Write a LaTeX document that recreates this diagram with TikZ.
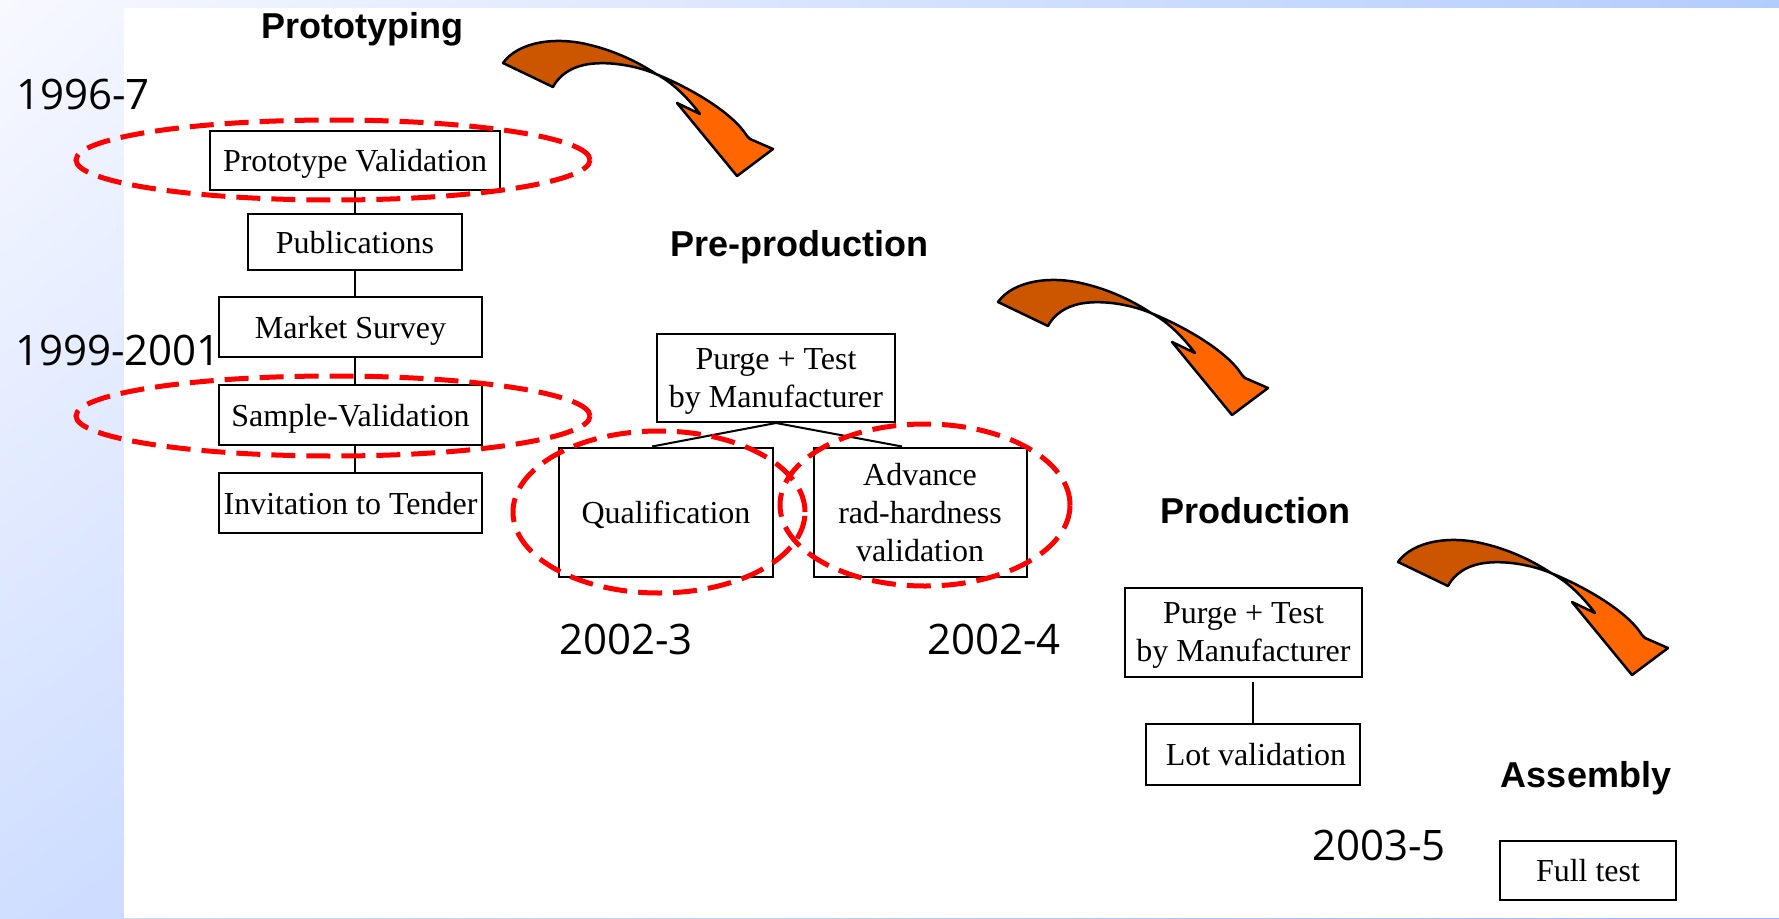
\documentclass[tikz,border=0pt]{standalone}
\usepackage{fontspec}
\setmainfont{Liberation Serif}
\newfontfamily\headfont{Liberation Sans}
\newfontfamily\datefont{Open Sans}
\usetikzlibrary{calc,shadings}

\definecolor{bgtl}{RGB}{248,249,255}
\definecolor{bgtr}{RGB}{179,204,255}
\definecolor{bgbl}{RGB}{208,222,255}
\definecolor{bgbr}{RGB}{150,185,255}
\definecolor{backface}{RGB}{204,85,0}
\definecolor{frontface}{RGB}{255,102,0}

% curved, twisted phase arrow, drawn at a given offset
\newcommand\phasearrow[1]{%
  \begin{scope}[shift={#1}]
    \filldraw[fill=backface, draw=black, line width=2.5pt, line join=round]
      (503,63) .. controls (518,42) and (555,36) .. (590,45)
      .. controls (615,51) and (638,62) .. (656,74)
      .. controls (632,64) and (600,60) .. (580,66)
      .. controls (566,70) and (557,79) .. (553,87) -- cycle;
    \filldraw[fill=frontface, draw=black, line width=2.5pt, line join=round]
      (656,74) .. controls (690,88) and (732,112) .. (747,136)
      -- (750,139) -- (773,149) -- (737,176) -- (677,103) -- (700,114)
      .. controls (688,98) and (672,82) .. (656,74) -- cycle;
  \end{scope}}

\begin{document}
\begin{tikzpicture}[x=1pt,y=-1pt,
  box/.style={draw, line width=2pt, fill=white, inner sep=0pt, align=center,
    text depth=0pt, font=\fontsize{32}{38}\selectfont},
  ring/.style={draw=red, line width=5pt, dash pattern=on 24pt off 11pt},
  phase/.style={font=\headfont\bfseries\fontsize{36}{40}\selectfont,
    anchor=base, inner sep=0pt},
  year/.style={font=\datefont\fontsize{42}{46}\selectfont,
    anchor=base west, inner sep=0pt},
  link/.style={line width=2pt}]

\useasboundingbox (0,0) rectangle (1779,918);

% backdrop: tinted frame on the left and top
\shade[upper left=bgtl, upper right=bgtr, lower left=bgbl, lower right=bgbr]
  (0,0) rectangle (1779,918);
\fill[white] (124,8) rectangle (1779,918);

% phase titles
\node[phase] (tproto) at (362,38) {Prototyping};
\node[phase] (tpre)   at (799,256) {Pre-production};
\node[phase] (tprod)  at (1255,523) {Production};
\node[phase] (tasm)   at (1586,787) {Assembly};

% dates
\node[year] (y1) at (16,109)   {1996-7};
\node[year] (y2) at (15,365)   {1999-2001};
\node[year] (y3) at (559,654)  {2002-3};
\node[year] (y4) at (927,654)  {2002-4};
\node[year] (y5) at (1312,860) {2003-5};

% prototyping steps
\node[box, minimum width=290pt, minimum height=59pt] (pv)  at (355,160)   {Prototype Validation};
\node[box, minimum width=214pt, minimum height=56pt] (pub) at (355,242)   {Publications};
\node[box, minimum width=263pt, minimum height=60pt] (ms)  at (350.5,327) {Market Survey};
\node[box, minimum width=263pt, minimum height=60pt] (sv)  at (350.5,415) {Sample-Validation};
\node[box, minimum width=263pt, minimum height=60pt] (it)  at (350.5,503) {Invitation to Tender};

\draw[link] (pv.south) -- (pub.north);
\draw[link] (pub.south) -- (pub.south |- ms.north);
\draw[link] (ms.south -| pub.south) -- (pub.south |- sv.north);
\draw[link] (sv.south -| pub.south) -- (pub.south |- it.north);

% pre-production steps
\node[box, minimum width=238pt, minimum height=88pt] (pt1)  at (776,378) {Purge + Test\\by Manufacturer};
\node[box, minimum width=214pt, minimum height=129pt] (qual) at (666,512) {Qualification};
\node[box, minimum width=213pt, minimum height=129pt] (adv)  at (920,512) {Advance\\rad-hardness\\validation};

\draw[link] (pt1.south) -- ($(qual.north)+(-14,0)$);
\draw[link] (pt1.south) -- ($(adv.north)+(-18,0)$);

% production steps
\node[box, minimum width=237pt, minimum height=89pt] (pt2) at (1243.5,632) {Purge + Test\\by Manufacturer};
\node[box, minimum width=214pt, minimum height=61pt] (lot) at (1253,754) {\hspace*{6pt}Lot validation};
\draw[link, shorten <=4pt] (pt2.south -| lot.north) -- (lot.north);

% assembly step
\node[box, minimum width=176pt, minimum height=59pt] (full) at (1588,870) {Full test};

% highlighted validation steps
\draw[ring] (333,160) ellipse [x radius=257pt, y radius=40pt];
\draw[ring] (333,416) ellipse [x radius=257pt, y radius=40pt];
\draw[ring] (659,512) ellipse [x radius=146pt, y radius=81pt];
\draw[ring] (925,505) ellipse [x radius=145pt, y radius=81pt];

% arrows between phases
\phasearrow{(0,0)}
\phasearrow{(495,239)}
\phasearrow{(895,499)}

\end{tikzpicture}
\end{document}
